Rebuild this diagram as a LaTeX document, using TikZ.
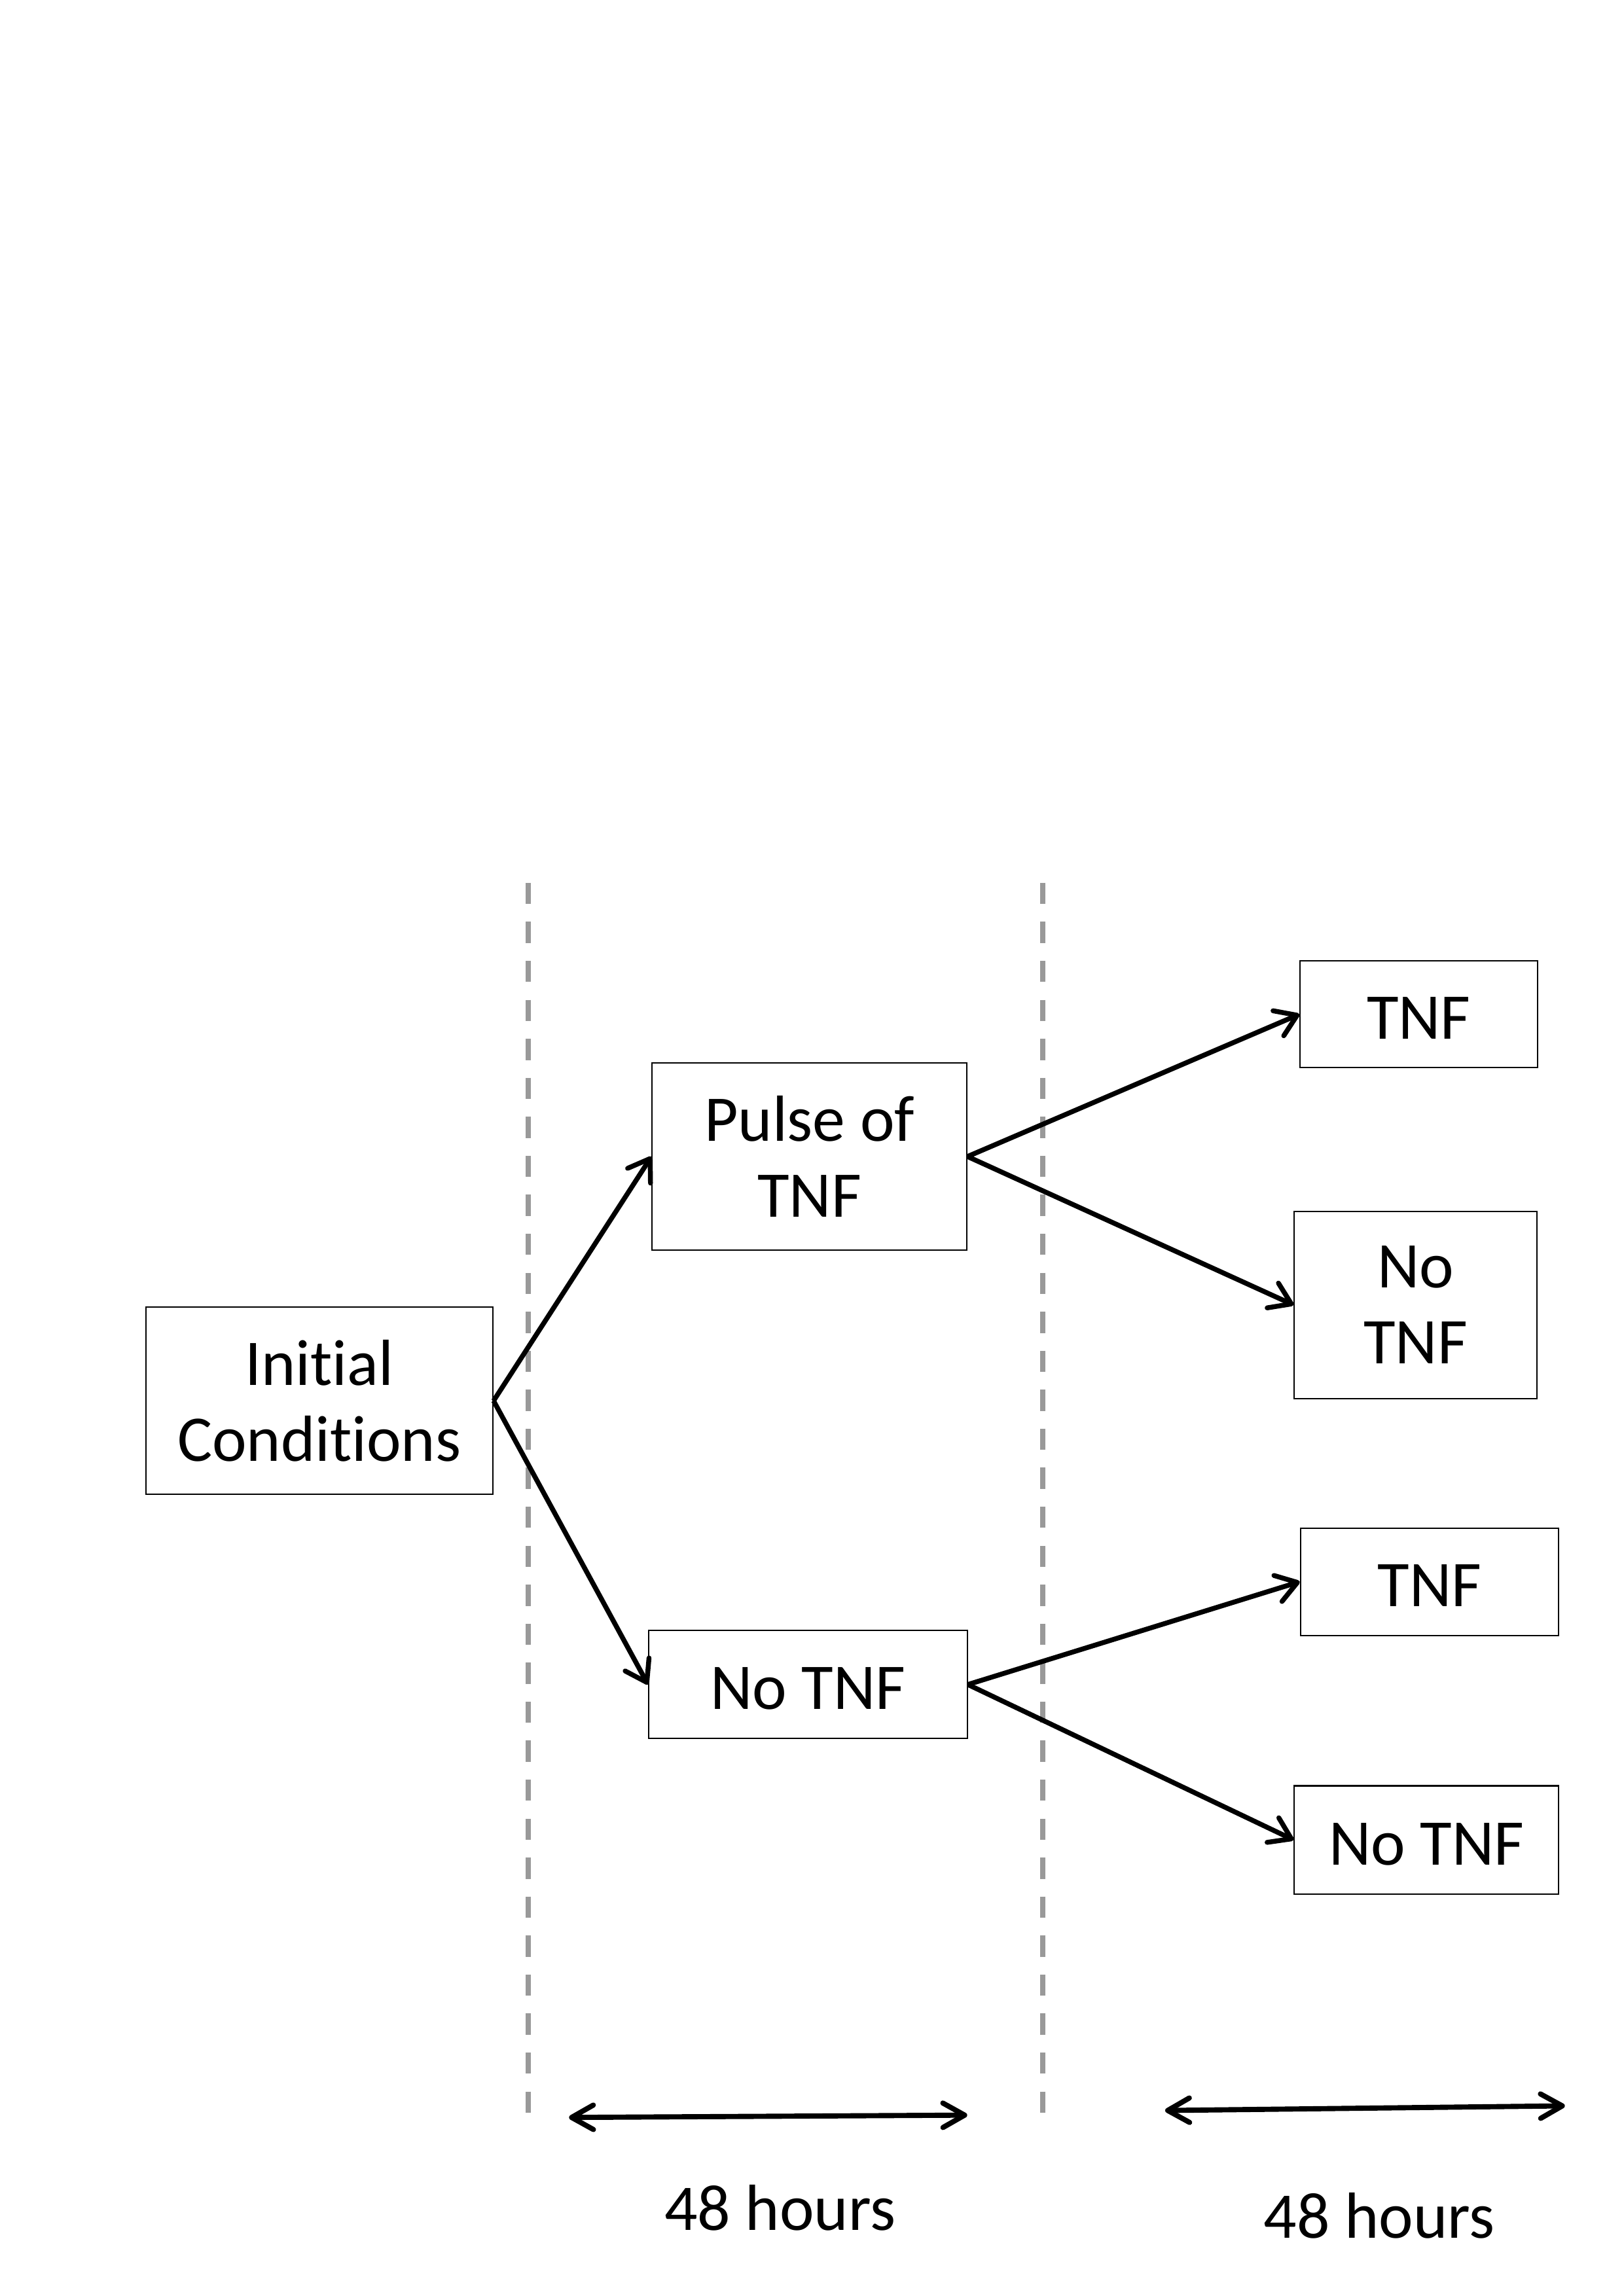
\documentclass[tikz,border=0pt]{standalone}
\usepackage{fontspec}
\setmainfont{Carlito}[RawFeature={-liga}]
\usepackage{xcolor}
\usepackage{tikz}
\usetikzlibrary{calc}
\usetikzlibrary{arrows.meta}
\usetikzlibrary{positioning}
\definecolor{dashgray}{RGB}{153,153,153}
\tikzset{
  box/.style={rectangle, draw=black, line width=0.5pt, align=center, inner sep=0pt, font=\fontsize{24}{28}\selectfont},
  oneline/.style={text height=18.4pt, text depth=0pt},
  lbl/.style={rectangle, draw=none, inner sep=0pt, font=\fontsize{24}{28}\selectfont},
  arr/.style={-{Straight Barb[length=7.5pt,width=10pt,round]}, line width=1.8pt},
  timeline/.style={draw=dashgray, line width=1.9pt, dash pattern=on 7.8pt off 6.55pt},
  span/.style={{Straight Barb[length=8pt,width=9pt,round]}-{Straight Barb[length=8pt,width=9pt,round]}, line width=1.9pt}
}
\begin{document}
\begin{tikzpicture}
\useasboundingbox (0, 0) rectangle (21, -29.7);
% time lines
\coordinate (T1a) at (6.83, -11.42);
\coordinate (T1b) at (6.83, -27.38);
\coordinate (T2a) at (13.49, -11.42);
\coordinate (T2b) at (13.49, -27.38);
\draw [timeline] (T1a) -- (T1b);
\draw [timeline] (T2a) -- (T2b);
% boxes
\node [box, minimum width=4.49cm, minimum height=2.42cm] (init) at (4.13, -18.12) {Initial\\Conditions};
\node [box, minimum width=4.07cm, minimum height=2.42cm] (pulse) at (10.47, -14.96) {Pulse of\\TNF};
\node [box, oneline, minimum width=4.12cm, minimum height=1.40cm] (noTNF) at (10.45, -21.79) {No TNF};
\node [box, oneline, minimum width=3.07cm, minimum height=1.38cm] (TNFa) at (18.35, -13.12) {TNF};
\node [box, minimum width=3.14cm, minimum height=2.42cm] (noTNFa) at (18.31, -16.88) {No\\TNF};
\node [box, oneline, minimum width=3.34cm, minimum height=1.39cm] (TNFb) at (18.49, -20.46) {TNF};
\node [box, oneline, minimum width=3.42cm, minimum height=1.40cm] (noTNFb) at (18.45, -23.80) {No TNF};
\draw [arr] (init.east) to (pulse.west);
\draw [arr] (init.east) to (noTNF.west);
\draw [arr] (pulse.east) to (TNFa.west);
\draw [arr] (pulse.east) to (noTNFa.west);
\draw [arr] (noTNF.east) to (TNFb.west);
\draw [arr] (noTNF.east) to (noTNFb.west);
% 48 hours
\coordinate (S1a) at (7.36, -27.39);
\coordinate (S1b) at (12.51, -27.36);
\coordinate (S2a) at (15.07, -27.30);
\coordinate (S2b) at (20.24, -27.24);
\draw [span] (S1a) to (S1b);
\draw [span] (S2a) to (S2b);
\node [lbl] (H1) at (10.09, -28.56) {48 hours};
\node [lbl] (H2) at (17.84, -28.66) {48 hours};
\end{tikzpicture}
\end{document}
